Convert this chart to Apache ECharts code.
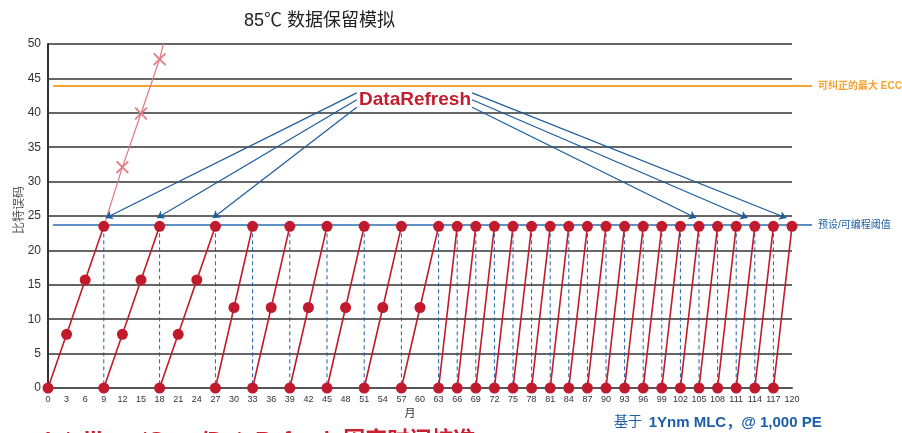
<!DOCTYPE html>
<html>
<head>
<meta charset="utf-8">
<title>85℃ 数据保留模拟</title>
<script src="https://cdn.jsdelivr.net/npm/echarts@6/dist/echarts.min.js"></script>
<style>
  html, body { margin: 0; padding: 0; background: #fff; }
  #chart { width: 902px; height: 433px; }
</style>
</head>
<body>
<div id="chart"></div>
<script>
// 刷新后的比特误码累积, ['-', '-'] 用来断开每个周期
const refreshedErrors = [
  [0, 0], [3, 7.8], [6, 15.7], [9, 23.5], ['-', '-'],
  [9, 0], [12, 7.8], [15, 15.7], [18, 23.5], ['-', '-'],
  [18, 0], [21, 7.8], [24, 15.7], [27, 23.5], ['-', '-'],
  [27, 0], [30, 11.7], [33, 23.5], ['-', '-'],
  [33, 0], [36, 11.7], [39, 23.5], ['-', '-'],
  [39, 0], [42, 11.7], [45, 23.5], ['-', '-'],
  [45, 0], [48, 11.7], [51, 23.5], ['-', '-'],
  [51, 0], [54, 11.7], [57, 23.5], ['-', '-'],
  [57, 0], [60, 11.7], [63, 23.5], ['-', '-'],
  [63, 0], [66, 23.5], ['-', '-'],
  [66, 0], [69, 23.5], ['-', '-'],
  [69, 0], [72, 23.5], ['-', '-'],
  [72, 0], [75, 23.5], ['-', '-'],
  [75, 0], [78, 23.5], ['-', '-'],
  [78, 0], [81, 23.5], ['-', '-'],
  [81, 0], [84, 23.5], ['-', '-'],
  [84, 0], [87, 23.5], ['-', '-'],
  [87, 0], [90, 23.5], ['-', '-'],
  [90, 0], [93, 23.5], ['-', '-'],
  [93, 0], [96, 23.5], ['-', '-'],
  [96, 0], [99, 23.5], ['-', '-'],
  [99, 0], [102, 23.5], ['-', '-'],
  [102, 0], [105, 23.5], ['-', '-'],
  [105, 0], [108, 23.5], ['-', '-'],
  [108, 0], [111, 23.5], ['-', '-'],
  [111, 0], [114, 23.5], ['-', '-'],
  [114, 0], [117, 23.5], ['-', '-'],
  [117, 0], [120, 23.5]
];
// 不刷新时的误码增长
const unrefreshedErrors = [[9, 23.5], [12, 32.1], [15, 39.9], [18, 47.8], [18.6, 50]];
// 发生刷新的月份
const refreshMonths = [9, 18, 27, 33, 39, 45, 51, 57, 63, 66, 69, 72, 75, 78, 81, 84, 87, 90,
  93, 96, 99, 102, 105, 108, 111, 114, 117];
const refreshLevel = 23.5;
const thresholdLevel = 23.7;
const eccLimit = 43.9;
const lineStart = 0.8;
// DataRefresh 指向刷新点的箭头 [起点, 终点]
const refreshArrows = [
  [[49.8, 42.9], [9.3, 24.7]],
  [[49.8, 41.9], [17.6, 24.7]],
  [[49.8, 40.8], [26.6, 24.7]],
  [[68.4, 40.8], [104.5, 24.7]],
  [[68.4, 41.9], [112.8, 24.7]],
  [[68.4, 42.9], [119.1, 24.7]]
];

// 刷新点的虚线（从阈值降到 0）
const dropLines = [];
refreshMonths.forEach(function (m) {
  dropLines.push([m, refreshLevel], [m, 0], ['-', '-']);
});
// 首尾两个点不画叉
const unrefreshedData = unrefreshedErrors.map(function (p, i) {
  if (i === 0 || i === unrefreshedErrors.length - 1) {
    return { value: p, symbol: 'none' };
  }
  return p;
});

const FONT = '"Liberation Sans", "Noto Sans CJK SC", sans-serif';
const RED = '#c01a2c';
const BLUE = '#1d5fa6';
const LINE_BLUE = '#2b6cb0';
const ORANGE = '#f5a331';

let chart = echarts.init(document.getElementById('chart'));
chart.setOption({
  animation: false,
  textStyle: { fontFamily: FONT },
  title: {
    text: '85℃ 数据保留模拟',
    left: 239,
    top: 7,
    textStyle: { fontSize: 18, fontWeight: 'normal', color: '#222', fontFamily: FONT }
  },
  grid: { left: 48, right: 110, top: 44, bottom: 45, outerBoundsMode: 'none' },
  xAxis: {
    type: 'value',
    min: 0,
    max: 120,
    interval: 3,
    name: '月',
    nameLocation: 'middle',
    nameGap: 20,
    nameTextStyle: { fontSize: 11, color: '#333', padding: [0, 20, 0, 0] },
    axisLine: { show: true, lineStyle: { color: '#555', width: 2 } },
    axisTick: { show: false },
    splitLine: { show: false },
    axisLabel: { fontSize: 9, color: '#333', margin: 7 }
  },
  yAxis: {
    type: 'value',
    min: 0,
    max: 50,
    interval: 5,
    name: '比特误码',
    nameLocation: 'middle',
    nameGap: 22,
    nameRotate: 90,
    nameMoveOverlap: false,
    nameTextStyle: { fontSize: 12, color: '#555', padding: [0, 0, 0, 12] },
    axisLine: { show: true, lineStyle: { color: '#333', width: 2 } },
    axisTick: { show: false },
    splitLine: { lineStyle: { color: '#333', width: 1.5 } },
    axisLabel: { fontSize: 12, color: '#333', margin: 7 }
  },
  series: [
    {
      name: 'drops',
      type: 'line',
      data: dropLines,
      symbol: 'none',
      lineStyle: { color: BLUE, width: 1, type: [4, 3] },
      z: 2
    },
    {
      name: 'threshold',
      type: 'line',
      data: [[lineStart, thresholdLevel], [120, thresholdLevel]],
      symbol: 'none',
      lineStyle: { color: LINE_BLUE, width: 1.5 },
      markLine: {
        silent: true,
        symbol: ['none', 'arrow'],
        symbolSize: 7,
        lineStyle: { color: '#1b5b9c', width: 1.2, type: 'solid' },
        label: { show: false },
        data: refreshArrows.map(function (a) {
          return [{ coord: a[0] }, { coord: a[1] }];
        })
      },
      markPoint: {
        silent: true,
        symbol: 'circle',
        symbolSize: 0,
        label: {
          show: true,
          position: 'inside',
          formatter: 'DataRefresh',
          color: '#c21f2e',
          fontSize: 19,
          fontWeight: 'bold'
        },
        data: [{ coord: [59.2, 41.9] }]
      },
      z: 3
    },
    {
      name: 'ecc',
      type: 'line',
      data: [[lineStart, eccLimit], [120, eccLimit]],
      symbol: 'none',
      lineStyle: { color: ORANGE, width: 2 },
      z: 3
    },
    {
      name: 'unrefreshed',
      type: 'line',
      data: unrefreshedData,
      symbol: 'path://M0,1L1,0L5,4L9,0L10,1L6,5L10,9L9,10L5,6L1,10L0,9L4,5Z',
      symbolSize: 13,
      itemStyle: { color: '#e27e86' },
      lineStyle: { color: '#e27e86', width: 1.3 },
      z: 4
    },
    {
      name: 'refreshed',
      type: 'line',
      data: refreshedErrors,
      symbol: 'circle',
      symbolSize: 11,
      itemStyle: { color: RED },
      lineStyle: { color: RED, width: 1.6 },
      z: 5
    }
  ]
});

// 两条参考线伸出绘图区并带右侧说明
const eccEnd = chart.convertToPixel({ gridIndex: 0 }, [120, eccLimit]);
const thrEnd = chart.convertToPixel({ gridIndex: 0 }, [120, thresholdLevel]);
const EXT = 20;

chart.setOption({
  graphic: [
    {
      type: 'line',
      shape: { x1: eccEnd[0], y1: eccEnd[1], x2: eccEnd[0] + EXT, y2: eccEnd[1] },
      style: { stroke: ORANGE, lineWidth: 2 }
    },
    {
      type: 'text',
      x: eccEnd[0] + EXT + 6,
      y: eccEnd[1],
      style: {
        text: '可纠正的最大 ECC',
        fill: ORANGE,
        fontSize: 10,
        fontWeight: 'bold',
        fontFamily: FONT,
        verticalAlign: 'middle'
      }
    },
    {
      type: 'line',
      shape: { x1: thrEnd[0], y1: thrEnd[1], x2: thrEnd[0] + EXT, y2: thrEnd[1] },
      style: { stroke: LINE_BLUE, lineWidth: 1.5 }
    },
    {
      type: 'text',
      x: thrEnd[0] + EXT + 6,
      y: thrEnd[1],
      style: {
        text: '预设/可编程阈值',
        fill: BLUE,
        fontSize: 10,
        fontFamily: FONT,
        verticalAlign: 'middle'
      }
    },
    {
      type: 'text',
      left: 614,
      top: 415,
      style: {
        text: '{a|基于}  {b|1Ynm MLC，@ 1,000 PE}',
        rich: {
          a: { fontSize: 14, fill: BLUE, fontFamily: FONT },
          b: { fontSize: 15, fontWeight: 'bold', fill: BLUE, fontFamily: FONT }
        }
      }
    },
    {
      type: 'text',
      left: 45,
      top: 430,
      style: {
        text: 'IntelligentSync/DataRefresh 固定时间校准',
        fontSize: 22,
        fontWeight: 'bold',
        fill: '#c8202f',
        fontFamily: FONT
      }
    }
  ]
});
</script>
</body>
</html>
